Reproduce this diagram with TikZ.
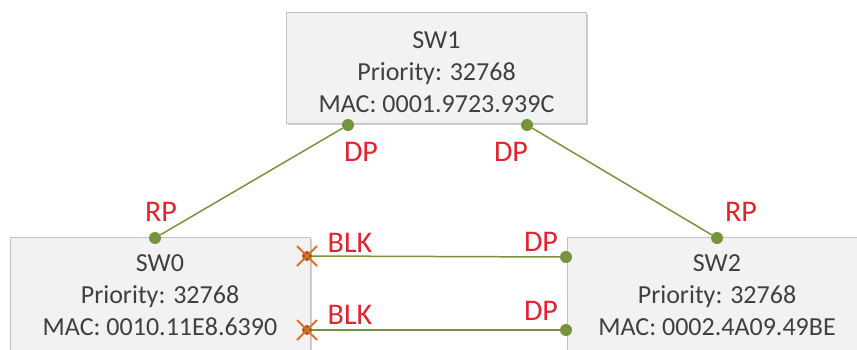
\documentclass[tikz,border=0pt]{standalone}
\usepackage{fontspec}
\setmainfont{Carlito}
\usetikzlibrary{shadows,shapes.misc}
\definecolor{lnk}{RGB}{119,147,60}
\definecolor{lbl}{RGB}{226,35,45}
\definecolor{boxf}{RGB}{242,242,242}
\definecolor{boxd}{RGB}{195,195,195}
\definecolor{blkx}{RGB}{230,110,40}
\definecolor{blkc}{RGB}{150,95,40}
\definecolor{txt}{RGB}{64,64,64}
\begin{document}
\begin{tikzpicture}[x=1pt,y=-1pt,
  swbox/.style={draw=boxd, fill=boxf, line width=1pt, minimum width=300pt, inner sep=0pt,
    drop shadow={shadow xshift=1.5pt, shadow yshift=-2pt, opacity=0.3, fill=black!60}},
  swtext/.style={align=center, font=\fontsize{26}{32}\selectfont, text=txt, inner sep=0pt},
  port/.style={circle, fill=lnk, inner sep=0pt, minimum size=12pt},
  blkdot/.style={circle, fill=blkc, inner sep=0pt, minimum size=10pt},
  blkcross/.style={cross out, draw=blkx, line width=2pt, inner sep=0pt, minimum size=18pt},
  link/.style={draw=lnk, line width=1.5pt},
  plab/.style={text=lbl, font=\fontsize{30}{30}\selectfont, inner sep=0pt}
]
\useasboundingbox (0,0) rectangle (857,349);
\clip (0,0) rectangle (857,349);

% switches
\node[swbox, minimum height=111pt] (sw1) at (436.5,67.5) {};
\node[swtext] (sw1t) at (436.5,72) {SW1\\Priority: 32768\\MAC: 0001.9723.939C};
\node[swbox, minimum height=120pt] (sw0) at (160,297) {};
\node[swtext] (sw0t) at (160,295) {SW0\\Priority: 32768\\MAC: 0010.11E8.6390};
\node[swbox, minimum height=120pt] (sw2) at (717,297) {};
\node[swtext] (sw2t) at (717,295) {SW2\\Priority: 32768\\MAC: 0002.4A09.49BE};

% ports
\node[port] (p1a) at (348,125) {};
\node[port] (p1b) at (527,125) {};
\node[port] (p0) at (155,238) {};
\node[port] (p2) at (717,238) {};
\node[port] (p2u) at (566,257) {};
\node[port] (p2d) at (566,330) {};
\node[blkdot] (b0u) at (307,256) {};
\node[blkdot] (b0d) at (307,330) {};

% links
\draw[link] (p1a) -- (p0);
\draw[link] (p1b) -- (p2);
\draw[link] (b0u) -- (p2u);
\draw[link] (b0d) -- (p2d);

\node[blkcross] (x0u) at (b0u) {};
\node[blkcross] (x0d) at (b0d) {};

% labels
\node[plab] (l1a) at (361,152) {DP};
\node[plab] (l1b) at (511,152) {DP};
\node[plab] (l0) at (161,212) {RP};
\node[plab] (l2) at (741,212) {RP};
\node[plab] (lb1) at (350,243) {BLK};
\node[plab] (lb2) at (350,315) {BLK};
\node[plab] (ld1) at (541,242) {DP};
\node[plab] (ld2) at (541,311) {DP};
\end{tikzpicture}
\end{document}
